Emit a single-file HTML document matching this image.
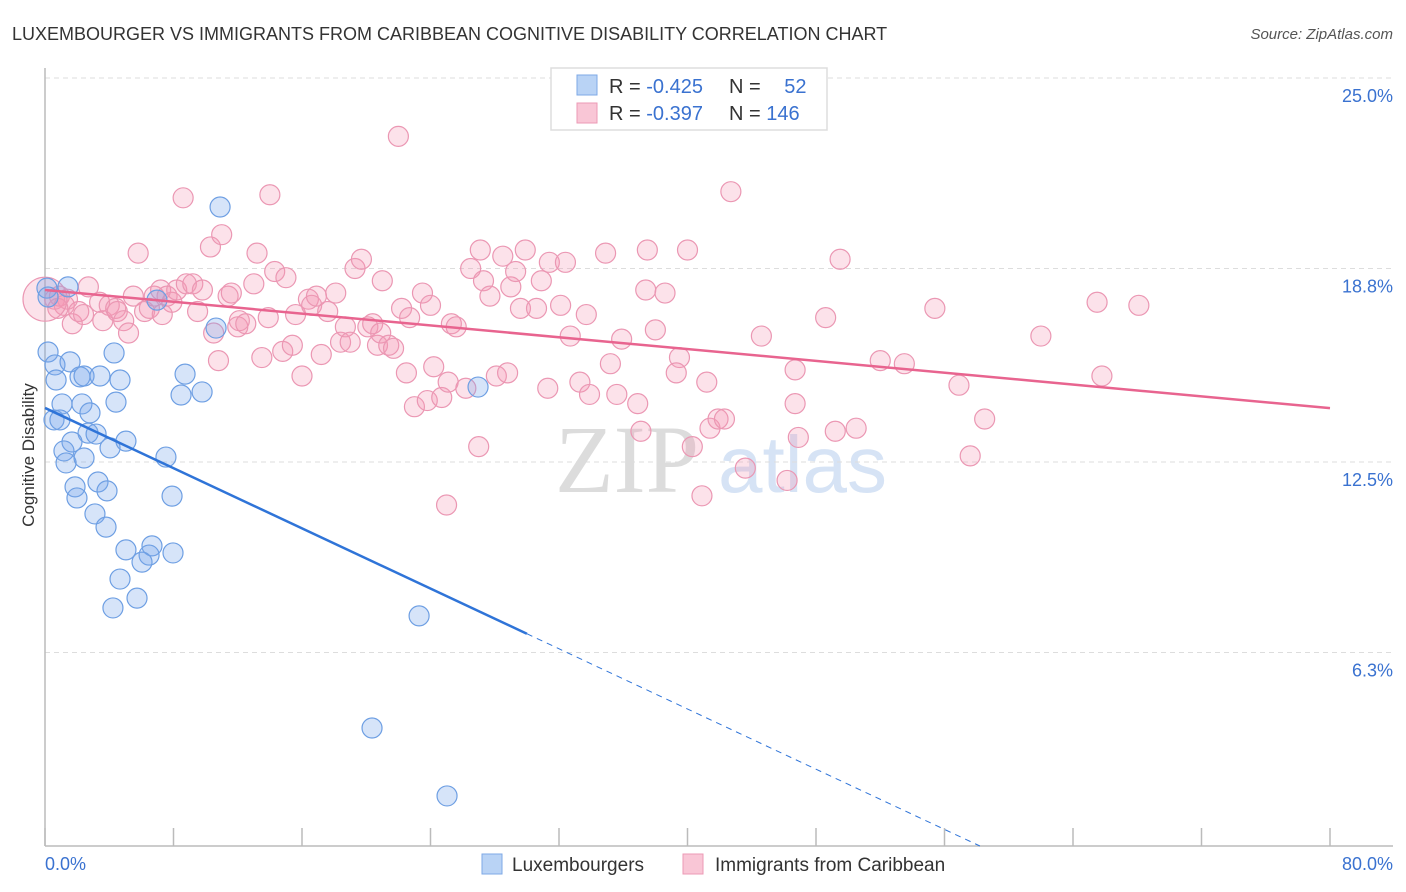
<!DOCTYPE html>
<html><head><meta charset="utf-8"><style>
body{margin:0;background:#fff;font-family:"Liberation Sans",sans-serif;}
svg{display:block}
</style></head><body>
<svg id="chart" width="1406" height="892">
<text x="12" y="40" font-size="18" fill="#333">LUXEMBOURGER VS IMMIGRANTS FROM CARIBBEAN COGNITIVE DISABILITY CORRELATION CHART</text>
<text x="1393" y="39" font-size="15" fill="#555" font-style="italic" text-anchor="end">Source: ZipAtlas.com</text>
<g>
<text x="555" y="492" font-size="96" fill="#dcdcdc" font-family="Liberation Serif,serif">ZIP</text>
<text x="718" y="492" font-size="80" fill="#d6e3f5">atlas</text>
</g>
<g id="grid"></g>
<g id="axes"></g>
<g id="pink"></g>
<g id="blue"></g>
<g id="trends"></g>
<text transform="translate(34,455) rotate(-90)" font-size="17" fill="#333" text-anchor="middle">Cognitive Disability</text>
<g>
<rect x="551" y="68" width="276" height="62" fill="#fff" stroke="#ddd" stroke-width="1.5"/>
<rect x="577" y="75" width="20" height="20" fill="#b9d3f5" stroke="#7ea8e6"/>
<rect x="577" y="103" width="20" height="20" fill="#f9c6d6" stroke="#ec9ab5"/>
<text x="609" y="93" font-size="20" fill="#333">R = <tspan fill="#3a72d0">-0.425</tspan></text>
<text x="729" y="93" font-size="20" fill="#333">N = <tspan fill="#3a72d0" dx="18">52</tspan></text>
<text x="609" y="120" font-size="20" fill="#333">R = <tspan fill="#3a72d0">-0.397</tspan></text>
<text x="729" y="120" font-size="20" fill="#333">N = <tspan fill="#3a72d0">146</tspan></text>
</g>
<g>
<rect x="482" y="854" width="20" height="20" fill="#b9d3f5" stroke="#7ea8e6"/>
<text x="512" y="871" font-size="19" fill="#333">Luxembourgers</text>
<rect x="683" y="854" width="20" height="20" fill="#f9c6d6" stroke="#ec9ab5"/>
<text x="715" y="871" font-size="19" fill="#333">Immigrants from Caribbean</text>
</g>
<text x="45" y="870" font-size="18" fill="#3a72d0">0.0%</text>
<text x="1393" y="870" font-size="18" fill="#3a72d0" text-anchor="end">80.0%</text>
</svg>
<script>
const yTicks=[25.0,18.8,12.5,6.3];
const yTickLabels=["25.0%","18.8%","12.5%","6.3%"];
const xTicks=[0,8,16,24,32,40,48,56,64,72,80];
const blueX=[0.12,1.43,0.19,0.62,0.69,1.56,2.18,2.43,1.06,2.30,2.80,0.56,0.93,3.42,4.30,4.67,4.42,2.68,3.18,1.68,1.18,1.31,2.43,4.05,5.04,3.30,1.87,1.99,3.86,3.11,3.80,5.04,6.66,6.48,6.04,4.67,5.73,4.23,7.53,7.91,7.97,6.97,8.72,8.47,9.78,10.65,10.90,26.96,23.29,20.36,25.03,0.19];
const blueY=[18.16,18.20,16.08,15.66,15.17,15.76,15.27,15.30,14.39,14.39,14.10,13.87,13.87,15.30,16.05,15.17,14.45,13.44,13.41,13.15,12.86,12.47,12.63,12.96,13.18,11.85,11.69,11.33,11.56,10.81,10.38,9.64,9.77,9.47,9.24,8.69,8.07,7.75,12.66,11.39,9.54,17.77,15.36,14.68,14.78,16.86,20.80,14.94,7.49,3.84,1.63,17.87];
const pinkX=[0.6,0.9,1.4,1.2,0.8,1.7,2.1,2.4,2.7,3.4,3.6,4.0,4.4,4.5,4.9,5.2,5.5,5.8,6.2,6.5,6.8,7.2,7.3,7.6,7.9,8.2,8.6,8.8,9.2,9.5,9.8,10.3,10.5,10.8,11.0,11.4,11.6,12.0,12.1,12.5,13.0,13.2,13.5,13.9,14.0,14.3,14.8,15.0,15.4,15.6,16.0,16.4,16.6,16.9,17.2,17.6,18.1,18.4,18.7,19.0,19.3,19.7,20.1,20.4,20.7,20.9,21.0,21.4,21.7,22.0,22.2,22.5,22.7,23.0,23.5,23.8,24.0,24.2,24.7,25.0,25.1,25.3,25.6,26.2,26.5,27.0,27.1,27.3,27.7,28.1,28.5,28.8,29.0,29.3,29.6,29.9,30.6,30.9,31.3,31.4,32.1,32.4,32.7,33.3,33.7,33.9,34.9,35.2,35.6,35.9,36.9,37.1,37.4,37.5,38.0,38.6,39.5,39.3,40.0,40.3,40.9,41.2,41.4,41.9,42.3,42.7,43.6,44.6,46.2,46.7,46.7,46.9,48.6,49.2,49.5,50.5,52.0,53.5,55.4,56.9,58.5,62.0,57.6,65.5,68.1,65.8,0.0];
const pinkY=[17.8,17.9,17.8,17.6,17.5,17.0,17.4,17.3,18.2,17.7,17.1,17.6,17.5,17.4,17.1,16.7,17.9,19.3,17.4,17.5,17.9,18.1,17.3,17.9,17.7,18.1,21.1,18.3,18.3,17.4,18.1,19.5,16.7,15.8,19.9,17.9,18.0,16.9,17.1,17.0,18.3,19.3,15.9,17.2,21.2,18.7,16.1,18.5,16.3,17.3,15.3,17.8,17.6,17.9,16.0,17.4,18.0,16.4,16.9,16.4,18.8,19.1,16.9,17.0,16.3,16.7,18.4,16.3,16.2,23.1,17.5,15.4,17.2,14.3,18.0,14.5,17.6,15.6,14.6,11.1,15.1,17.0,16.9,14.9,18.8,13.0,19.4,18.4,17.9,15.3,19.2,15.4,18.2,18.7,17.5,19.4,17.5,18.4,14.9,19.0,17.6,19.0,16.6,15.1,17.3,14.7,19.3,15.7,14.7,16.5,14.4,13.5,18.1,19.4,16.8,18.0,15.9,15.4,19.4,13.0,11.4,15.1,13.6,13.9,13.9,21.3,12.3,16.6,11.9,15.5,14.4,13.3,17.2,13.5,19.1,13.6,15.8,15.7,17.5,15.0,13.9,16.6,12.7,17.7,17.6,15.3,17.8];
const blueTrend=[14.26,-0.245];
const pinkTrend=[18.1,-0.0481];
const NS="http://www.w3.org/2000/svg";
const X0=45,X1=1330,Y0=846,YPER=30.72;
function sx(v){return X0+(X1-X0)*v/80;}
function sy(v){return Y0-v*YPER;}
function mk(tag,attrs,parent){const e=document.createElementNS(NS,tag);for(const k in attrs)e.setAttribute(k,attrs[k]);parent.appendChild(e);return e;}
const grid=document.getElementById('grid'),axes=document.getElementById('axes');
yTicks.forEach((t,i)=>{
 const l=mk('line',{x1:45,x2:1393,y1:sy(t),y2:sy(t),stroke:'#ddd','stroke-dasharray':'5,4'},grid);
 
 
 const tx=mk('text',{x:1393,y:sy(t)+24,'font-size':18,fill:'#3a72d0','text-anchor':'end'},grid);
 tx.textContent=yTickLabels[i];
 
 
});
const ya=mk('line',{x1:45,x2:45,y1:68,y2:846,stroke:'#bbb','stroke-width':1.5},axes);


const xa=mk('line',{x1:45,x2:1393,y1:846,y2:846,stroke:'#bbb','stroke-width':1.5},axes);


xTicks.forEach(t=>{
 const l=mk('line',{x1:sx(t),x2:sx(t),y1:828,y2:846,stroke:'#bbb','stroke-width':1.5},axes);
 
 
});
const pg=document.getElementById('pink');
pinkX.forEach((x,i)=>{
 const big=(x===0);
 const c=mk('circle',{cx:sx(x),cy:sy(pinkY[i]),r:big?22:10,fill:'rgba(243,150,180,0.28)',stroke:'#eb97b3','stroke-width':1.2},pg);
 
 
});
const bg=document.getElementById('blue');
blueX.forEach((x,i)=>{
 const c=mk('circle',{cx:sx(x),cy:sy(blueY[i]),r:10,fill:'rgba(120,165,235,0.3)',stroke:'#6e9fe3','stroke-width':1.2},bg);
 
 
});
const tg=document.getElementById('trends');
const pt=mk('line',{x1:sx(0),y1:sy(pinkTrend[0]),x2:sx(80),y2:sy(pinkTrend[0]+pinkTrend[1]*80),stroke:'#e8648f','stroke-width':2.5},tg);


const bx=30,bz=-blueTrend[0]/blueTrend[1];
const bt=mk('line',{x1:sx(0),y1:sy(blueTrend[0]),x2:sx(bx),y2:sy(blueTrend[0]+blueTrend[1]*bx),stroke:'#2f74d8','stroke-width':2.5},tg);


const bd=mk('line',{x1:sx(bx),y1:sy(blueTrend[0]+blueTrend[1]*bx),x2:sx(bz),y2:sy(0),stroke:'#2f74d8','stroke-width':1,'stroke-dasharray':'6,5'},tg);


</script>
</body></html>
